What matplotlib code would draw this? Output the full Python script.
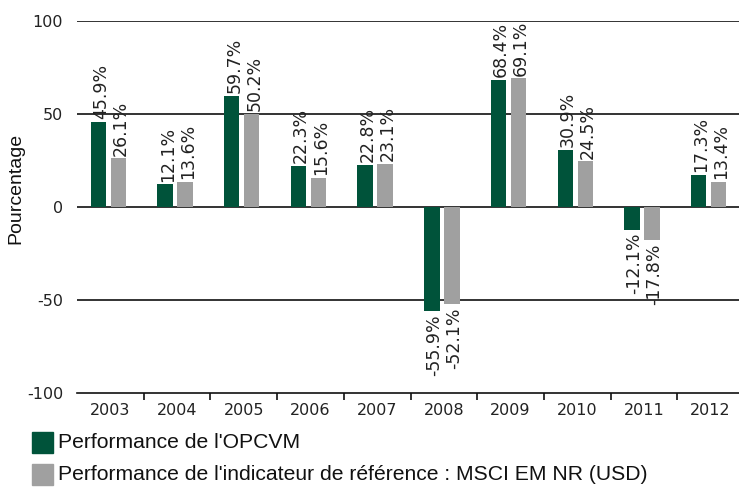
import matplotlib.pyplot as plt
import numpy as np
from matplotlib.patches import Rectangle
from matplotlib.ticker import FixedLocator

plt.rcParams['axes.unicode_minus'] = False

# Data
years = ['2003', '2004', '2005', '2006', '2007', '2008', '2009', '2010', '2011', '2012']
fund_perf = [45.9, 12.1, 59.7, 22.3, 22.8, -55.9, 68.4, 30.9, -12.1, 17.3]
index_perf = [26.1, 13.6, 50.2, 15.6, 23.1, -52.1, 69.1, 24.5, -17.8, 13.4]
series_names = ["Performance de l'OPCVM",
                "Performance de l'indicateur de référence : MSCI EM NR (USD)"]

green = '#00533a'
grey = '#a0a0a0'
text_col = '#222222'

W, H = 739, 487
fig = plt.figure(figsize=(W / 100, H / 100), dpi=100)
ax = fig.add_axes([77 / W, 1 - 393 / H, 667 / W, 372 / H])

x = np.arange(len(years))
width = 0.23
b1 = ax.bar(x - 0.18, fund_perf, width, color=green)
b2 = ax.bar(x + 0.12, index_perf, width, color=grey)

# rotated value labels
for bars, vals in ((b1, fund_perf), (b2, index_perf)):
    for rect, v in zip(bars, vals):
        cx = rect.get_x() + rect.get_width() / 2 + 0.04
        if v >= 0:
            ax.annotate(f'{v:.1f}%', (cx, v), xytext=(0, 2), textcoords='offset points',
                        rotation=90, ha='center', va='bottom', fontsize=12.5, color=text_col)
        else:
            ax.annotate(f'{v:.1f}%', (cx, v), xytext=(0, -2.5), textcoords='offset points',
                        rotation=90, ha='center', va='top', fontsize=12.5, color=text_col)

ax.set_xlim(-0.5, len(years) - 0.5)
ax.set_ylim(-100, 100)
ax.set_yticks([-100, -50, 0, 50, 100])
for yv in [-50, 0, 50, 100]:
    ax.axhline(yv, color='#111111', lw=1.2, zorder=0)

ax.set_xticks(x)
ax.set_xticklabels(years)
ax.xaxis.set_minor_locator(FixedLocator(np.arange(0.5, len(years) - 0.5, 1)))
ax.tick_params(axis='x', which='major', length=0, pad=7, labelsize=11.5, labelcolor=text_col)
ax.tick_params(axis='x', which='minor', length=5, width=1.2, color='#111111')
ax.tick_params(axis='y', length=0, pad=10, labelsize=11.5, labelcolor=text_col)

for s in ['top', 'right', 'left']:
    ax.spines[s].set_visible(False)
ax.spines['bottom'].set_color('#111111')
ax.spines['bottom'].set_linewidth(1.2)

fig.text(16 / W, 1 - 188 / H, 'Pourcentage', rotation=90, ha='center', va='center',
         fontsize=14, family='Liberation Sans', color='#111111')

# legend
for i, (name, col) in enumerate(zip(series_names, [green, grey])):
    y0 = 432 + i * 31.5
    fig.patches.append(Rectangle((32 / W, 1 - (y0 + 21) / H), 21 / W, 21 / H,
                                 transform=fig.transFigure, color=col))
    fig.text(58 / W, 1 - (y0 + 11) / H, name, ha='left', va='center',
             fontsize=15.2, family='Liberation Sans', color='#111111')

fig.savefig('out.png', dpi=100)
